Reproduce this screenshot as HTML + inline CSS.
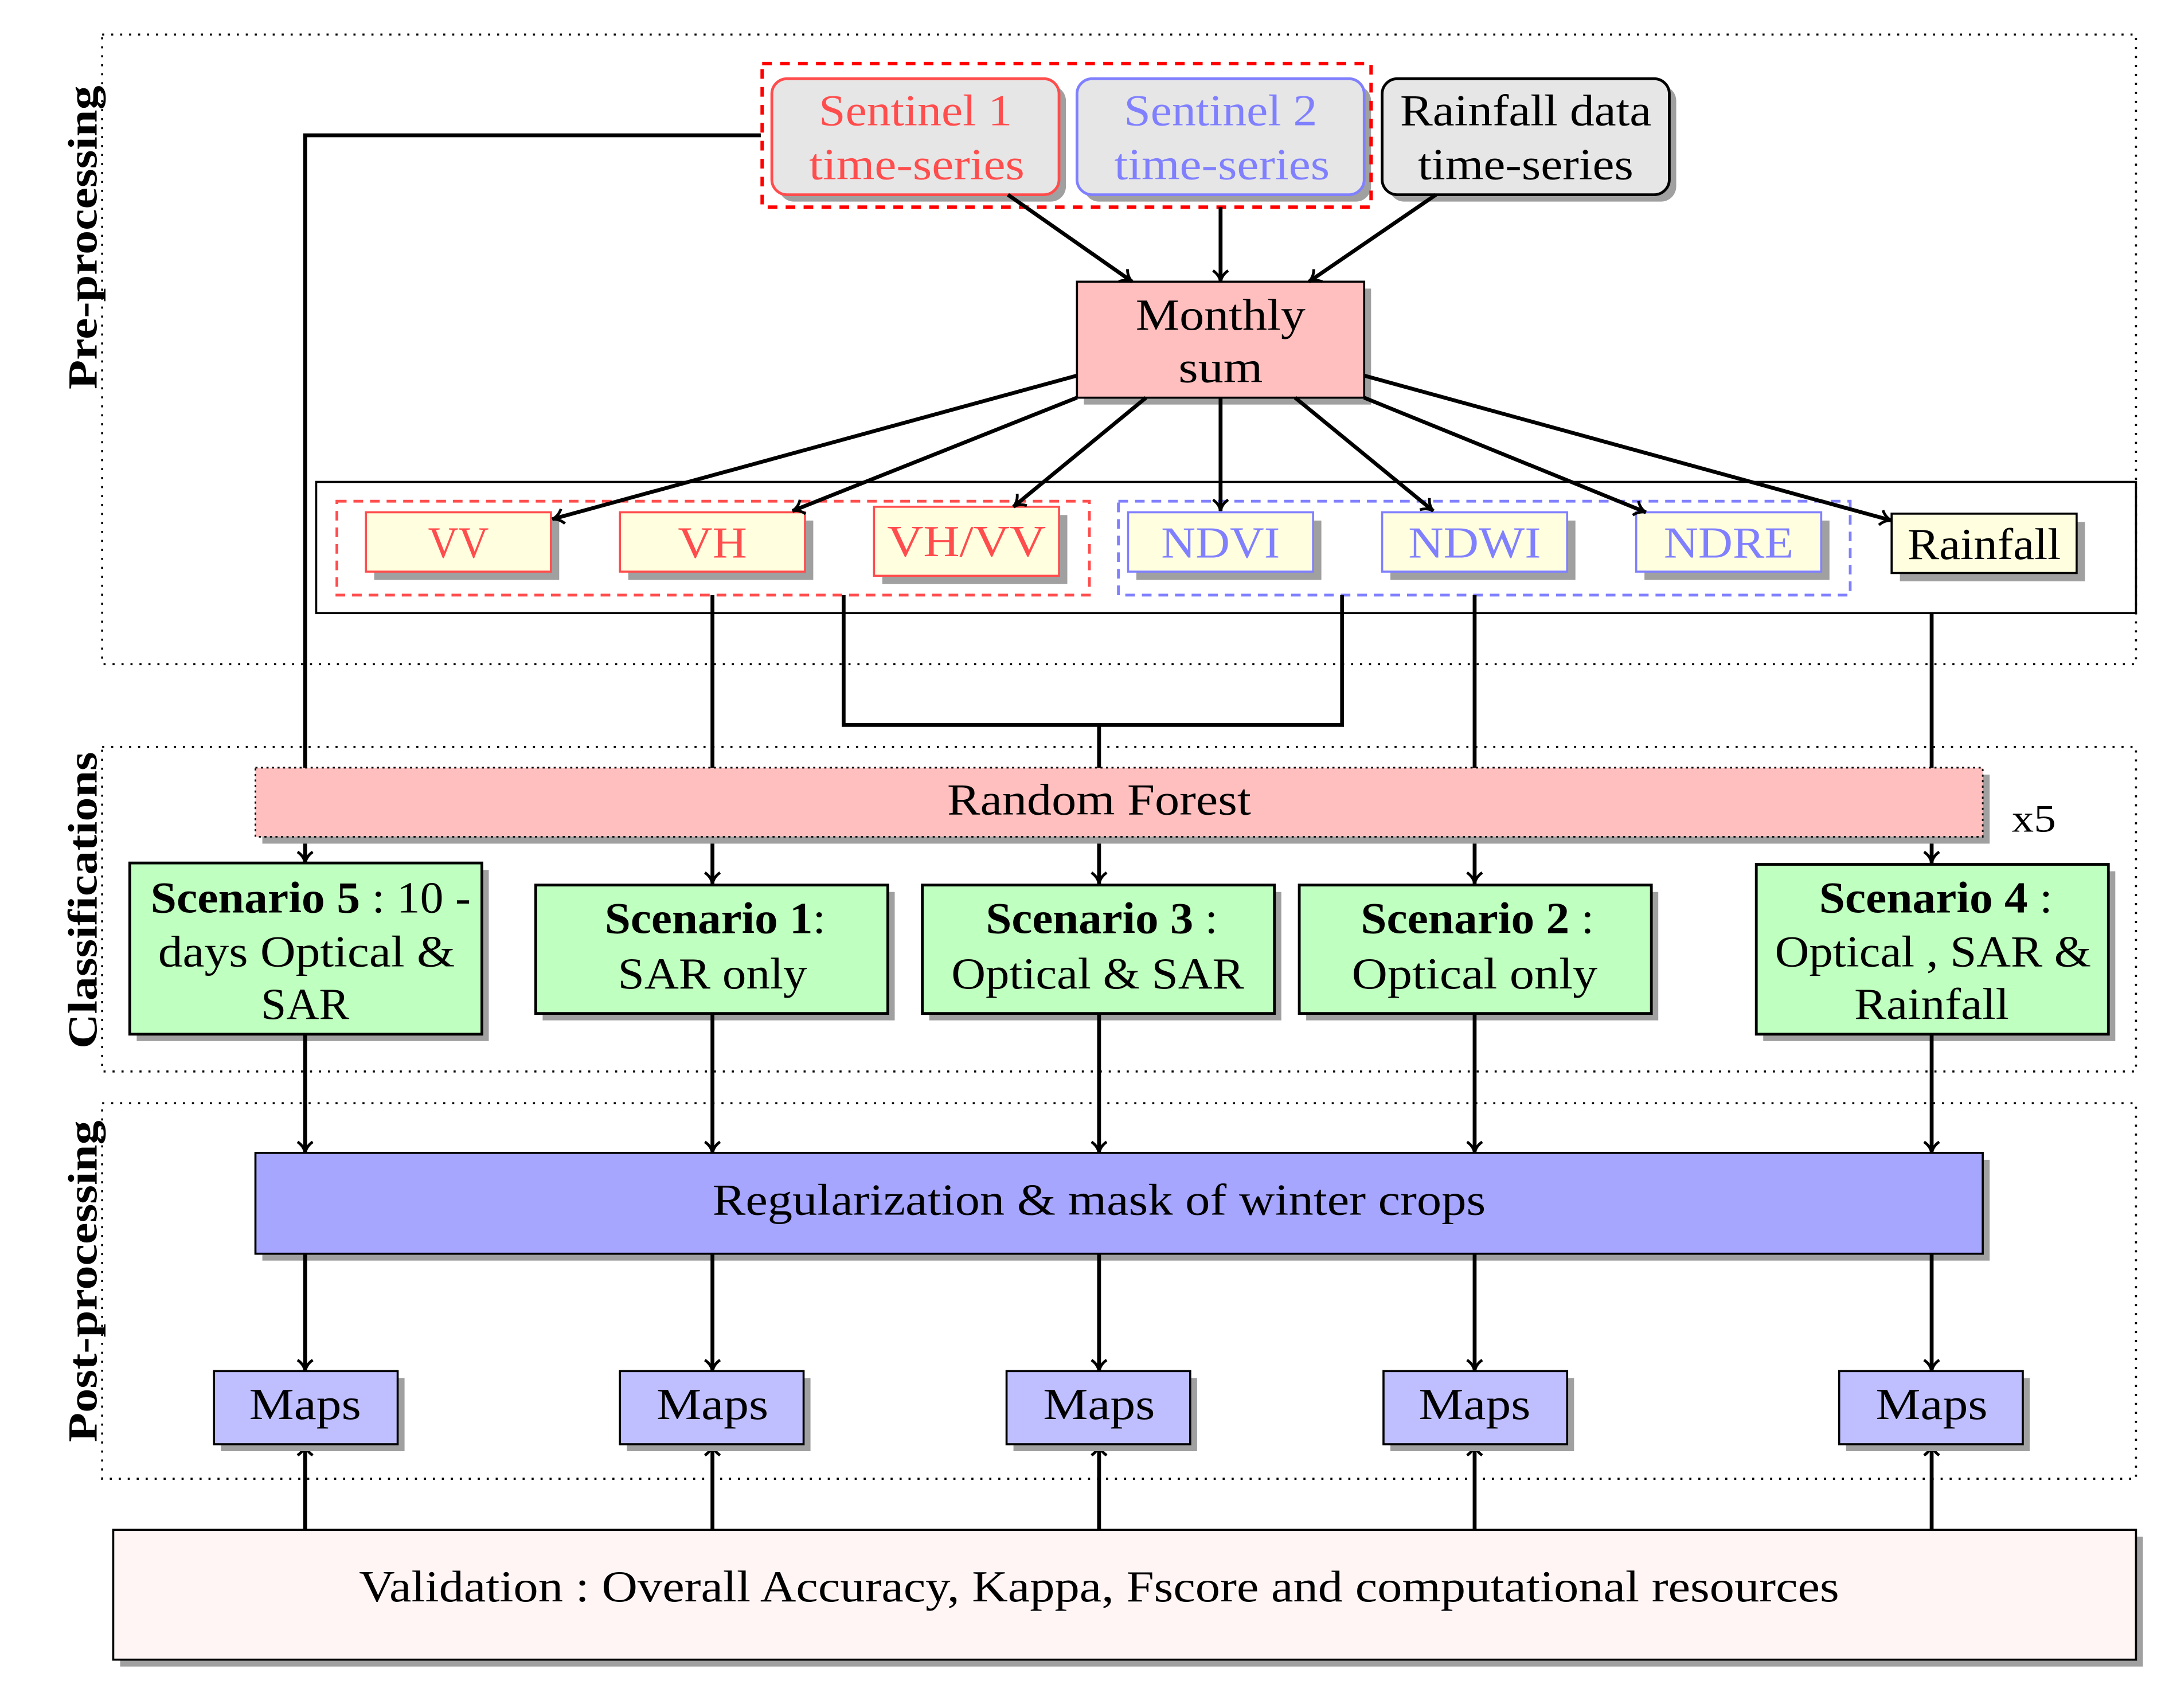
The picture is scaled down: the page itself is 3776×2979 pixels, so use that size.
<!DOCTYPE html>
<html><head><meta charset="utf-8"><style>
html,body{margin:0;padding:0;background:#fff}
svg{display:block}
text{font-family:"Liberation Serif",serif;font-size:32px;text-anchor:middle;dominant-baseline:central}
.b{font-weight:bold}
</style></head><body>
<svg width="3776" height="2979" viewBox="0 0 1568 1237" xmlns="http://www.w3.org/2000/svg">
<defs>
<marker id="a" markerWidth="14" markerHeight="14" refX="10" refY="7" orient="auto" markerUnits="userSpaceOnUse">
<path d="M2,1.5 Q5,6 10,7 Q5,8 2,12.5" fill="none" stroke="#000" stroke-width="2"/>
</marker>
</defs>
<g fill="none" stroke="#000" stroke-width="1.5" stroke-dasharray="1.5 5">
<rect x="74" y="25" width="1473" height="456"/>
<rect x="74" y="541" width="1473" height="235"/>
<rect x="74" y="799" width="1473" height="272"/>
</g>
<text class="b" transform="translate(60,172) rotate(-90)" style="font-size:30px" textLength="220" lengthAdjust="spacingAndGlyphs">Pre-processing</text>
<text class="b" transform="translate(60,652) rotate(-90)" style="font-size:30px" textLength="215" lengthAdjust="spacingAndGlyphs">Classifications</text>
<text class="b" transform="translate(60,928) rotate(-90)" style="font-size:30px" textLength="233" lengthAdjust="spacingAndGlyphs">Post-processing</text>

<g fill="#a0a0a0">
<rect x="564" y="62" width="208" height="84" rx="11"/>
<rect x="785" y="62" width="208" height="84" rx="11"/>
<rect x="1006" y="62" width="208" height="84" rx="11"/>
</g>
<rect x="559" y="57" width="208" height="84" rx="11" fill="#e6e6e6" stroke="#ff4d4d" stroke-width="2"/>
<rect x="780" y="57" width="208" height="84" rx="11" fill="#e6e6e6" stroke="#8080ff" stroke-width="2"/>
<rect x="1001" y="57" width="208" height="84" rx="11" fill="#e6e6e6" stroke="#000" stroke-width="2"/>
<rect x="552" y="46" width="441" height="104" fill="none" stroke="#f00" stroke-width="2.5" stroke-dasharray="7 6"/>
<g fill="#ff4d4d"><text x="663" y="80" textLength="140" lengthAdjust="spacingAndGlyphs">Sentinel 1</text><text x="664" y="119" textLength="156" lengthAdjust="spacingAndGlyphs">time-series</text></g>
<g fill="#8080ff"><text x="884" y="80" textLength="140" lengthAdjust="spacingAndGlyphs">Sentinel 2</text><text x="885" y="119" textLength="156" lengthAdjust="spacingAndGlyphs">time-series</text></g>
<text x="1105" y="80" textLength="182" lengthAdjust="spacingAndGlyphs">Rainfall data</text><text x="1105" y="119" textLength="156" lengthAdjust="spacingAndGlyphs">time-series</text>

<rect x="785" y="209" width="208" height="84" fill="#a0a0a0"/>
<rect x="780" y="204" width="208" height="84" fill="#ffbfbf" stroke="#000" stroke-width="1.5"/>
<text x="884" y="228" textLength="123" lengthAdjust="spacingAndGlyphs">Monthly</text><text x="884" y="266" textLength="61" lengthAdjust="spacingAndGlyphs">sum</text>

<rect x="229" y="349" width="1318" height="95" fill="none" stroke="#000" stroke-width="1.5"/>
<g fill="#a0a0a0">
<rect x="271" y="377" width="134" height="43"/>
<rect x="455" y="377" width="134" height="43"/>
<rect x="639" y="373" width="134" height="50"/>
<rect x="823" y="377" width="134" height="43"/>
<rect x="1007" y="377" width="134" height="43"/>
<rect x="1191" y="377" width="134" height="43"/>
<rect x="1376" y="378" width="134" height="43"/>
</g>
<g fill="#ffffe0" stroke-width="1.5">
<rect x="265" y="371" width="134" height="43" stroke="#ff4d4d"/>
<rect x="449" y="371" width="134" height="43" stroke="#ff4d4d"/>
<rect x="633" y="367" width="134" height="50" stroke="#ff4d4d"/>
<rect x="817" y="371" width="134" height="43" stroke="#8080ff"/>
<rect x="1001" y="371" width="134" height="43" stroke="#8080ff"/>
<rect x="1185" y="371" width="134" height="43" stroke="#8080ff"/>
<rect x="1370" y="372" width="134" height="43" stroke="#000"/>
</g>
<rect x="244" y="363" width="545" height="68" fill="none" stroke="#ff4d4d" stroke-width="2" stroke-dasharray="7 5"/>
<rect x="810" y="363" width="530" height="68" fill="none" stroke="#8080ff" stroke-width="2" stroke-dasharray="7 5"/>
<g fill="#ff4d4d"><text x="332" y="393" textLength="44" lengthAdjust="spacingAndGlyphs">VV</text><text x="516" y="393" textLength="50" lengthAdjust="spacingAndGlyphs">VH</text><text x="700" y="392" textLength="115" lengthAdjust="spacingAndGlyphs">VH/VV</text></g>
<g fill="#8080ff"><text x="884" y="393" textLength="86" lengthAdjust="spacingAndGlyphs">NDVI</text><text x="1068" y="393" textLength="96" lengthAdjust="spacingAndGlyphs">NDWI</text><text x="1252" y="393" textLength="94" lengthAdjust="spacingAndGlyphs">NDRE</text></g>
<text x="1437" y="394" textLength="111" lengthAdjust="spacingAndGlyphs">Rainfall</text>

<g stroke="#000" stroke-width="2.8" fill="none" marker-end="url(#a)">
<line x1="730" y1="141" x2="820" y2="204"/>
<line x1="884" y1="150" x2="884" y2="204"/>
<line x1="1040" y1="141" x2="948" y2="204"/>
<line x1="780" y1="272" x2="400" y2="376"/>
<line x1="780" y1="288" x2="574" y2="370"/>
<line x1="830" y1="288" x2="734" y2="367"/>
<line x1="884" y1="288" x2="884" y2="370"/>
<line x1="938" y1="288" x2="1038" y2="370"/>
<line x1="988" y1="288" x2="1192" y2="371"/>
<line x1="988" y1="272" x2="1370" y2="377"/>
</g>

<g stroke="#000" stroke-width="2.8" fill="none">
<polyline points="551,98 221,98 221,625" marker-end="url(#a)"/>
<line x1="516" y1="431" x2="516" y2="640" marker-end="url(#a)"/>
<polyline points="611,431 611,525 972,525 972,431"/>
<line x1="796" y1="525" x2="796" y2="640" marker-end="url(#a)"/>
<line x1="1068" y1="431" x2="1068" y2="640" marker-end="url(#a)"/>
<line x1="1399" y1="444" x2="1399" y2="625" marker-end="url(#a)"/>
</g>

<rect x="190" y="561" width="1251" height="50" fill="#a0a0a0"/>
<rect x="185" y="556" width="1251" height="50" fill="#ffbfbf" stroke="#000" stroke-width="1.2" stroke-dasharray="1.5 2.5"/>
<text x="796" y="579" textLength="220" lengthAdjust="spacingAndGlyphs">Random Forest</text>
<text x="1473" y="593" style="font-size:28px" textLength="32" lengthAdjust="spacingAndGlyphs">x5</text>

<g fill="#a0a0a0">
<rect x="99" y="630" width="255" height="124"/>
<rect x="393" y="646" width="255" height="93"/>
<rect x="673" y="646" width="255" height="93"/>
<rect x="946" y="646" width="255" height="93"/>
<rect x="1277" y="631" width="255" height="123"/>
</g>
<g fill="#bfffbf" stroke="#000" stroke-width="2">
<rect x="94" y="625" width="255" height="124"/>
<rect x="388" y="641" width="255" height="93"/>
<rect x="668" y="641" width="255" height="93"/>
<rect x="941" y="641" width="255" height="93"/>
<rect x="1272" y="626" width="255" height="123"/>
</g>
<text x="225" y="650" textLength="232" lengthAdjust="spacingAndGlyphs"><tspan class="b">Scenario 5</tspan> : 10 -</text>
<text x="222" y="689" textLength="215" lengthAdjust="spacingAndGlyphs">days Optical &amp;</text>
<text x="221" y="727" textLength="64" lengthAdjust="spacingAndGlyphs">SAR</text>
<text x="518" y="665" textLength="160" lengthAdjust="spacingAndGlyphs"><tspan class="b">Scenario 1</tspan>:</text>
<text x="516" y="705" textLength="137" lengthAdjust="spacingAndGlyphs">SAR only</text>
<text x="798" y="665" textLength="168" lengthAdjust="spacingAndGlyphs"><tspan class="b">Scenario 3</tspan> :</text>
<text x="795" y="705" textLength="212" lengthAdjust="spacingAndGlyphs">Optical &amp; SAR</text>
<text x="1070" y="665" textLength="169" lengthAdjust="spacingAndGlyphs"><tspan class="b">Scenario 2</tspan> :</text>
<text x="1068" y="705" textLength="178" lengthAdjust="spacingAndGlyphs">Optical only</text>
<text x="1402" y="650" textLength="169" lengthAdjust="spacingAndGlyphs"><tspan class="b">Scenario 4</tspan> :</text>
<text x="1400" y="689" textLength="229" lengthAdjust="spacingAndGlyphs">Optical , SAR &amp;</text>
<text x="1399" y="727" textLength="112" lengthAdjust="spacingAndGlyphs">Rainfall</text>

<rect x="190" y="840" width="1251" height="73" fill="#a0a0a0"/>
<rect x="185" y="835" width="1251" height="73" fill="#a6a6ff" stroke="#000" stroke-width="1.5"/>
<text x="796" y="869" textLength="560" lengthAdjust="spacingAndGlyphs">Regularization &amp; mask of winter crops</text>

<g stroke="#000" stroke-width="2.8" fill="none" marker-end="url(#a)">
<line x1="221" y1="749" x2="221" y2="835"/>
<line x1="516" y1="734" x2="516" y2="835"/>
<line x1="796" y1="734" x2="796" y2="835"/>
<line x1="1068" y1="734" x2="1068" y2="835"/>
<line x1="1399" y1="749" x2="1399" y2="835"/>
<line x1="221" y1="908" x2="221" y2="993"/>
<line x1="516" y1="908" x2="516" y2="993"/>
<line x1="796" y1="908" x2="796" y2="993"/>
<line x1="1068" y1="908" x2="1068" y2="993"/>
<line x1="1399" y1="908" x2="1399" y2="993"/>
<line x1="221" y1="1108" x2="221" y2="1046"/>
<line x1="516" y1="1108" x2="516" y2="1046"/>
<line x1="796" y1="1108" x2="796" y2="1046"/>
<line x1="1068" y1="1108" x2="1068" y2="1046"/>
<line x1="1399" y1="1108" x2="1399" y2="1046"/>
</g>

<g fill="#a0a0a0">
<rect x="160" y="998" width="133" height="53"/>
<rect x="454" y="998" width="133" height="53"/>
<rect x="734" y="998" width="133" height="53"/>
<rect x="1007" y="998" width="133" height="53"/>
<rect x="1337" y="998" width="133" height="53"/>
</g>
<g fill="#bfbfff" stroke="#000" stroke-width="1.5">
<rect x="155" y="993" width="133" height="53"/>
<rect x="449" y="993" width="133" height="53"/>
<rect x="729" y="993" width="133" height="53"/>
<rect x="1002" y="993" width="133" height="53"/>
<rect x="1332" y="993" width="133" height="53"/>
</g>
<g>
<text x="221" y="1017" textLength="81" lengthAdjust="spacingAndGlyphs">Maps</text><text x="516" y="1017" textLength="81" lengthAdjust="spacingAndGlyphs">Maps</text><text x="796" y="1017" textLength="81" lengthAdjust="spacingAndGlyphs">Maps</text><text x="1068" y="1017" textLength="81" lengthAdjust="spacingAndGlyphs">Maps</text><text x="1399" y="1017" textLength="81" lengthAdjust="spacingAndGlyphs">Maps</text>
</g>

<rect x="87" y="1113" width="1465" height="94" fill="#a0a0a0"/>
<rect x="82" y="1108" width="1465" height="94" fill="#fff5f5" stroke="#000" stroke-width="1.5"/>
<text x="796" y="1149" textLength="1072" lengthAdjust="spacingAndGlyphs">Validation : Overall Accuracy, Kappa, Fscore and computational resources</text>
</svg>
</body></html>
